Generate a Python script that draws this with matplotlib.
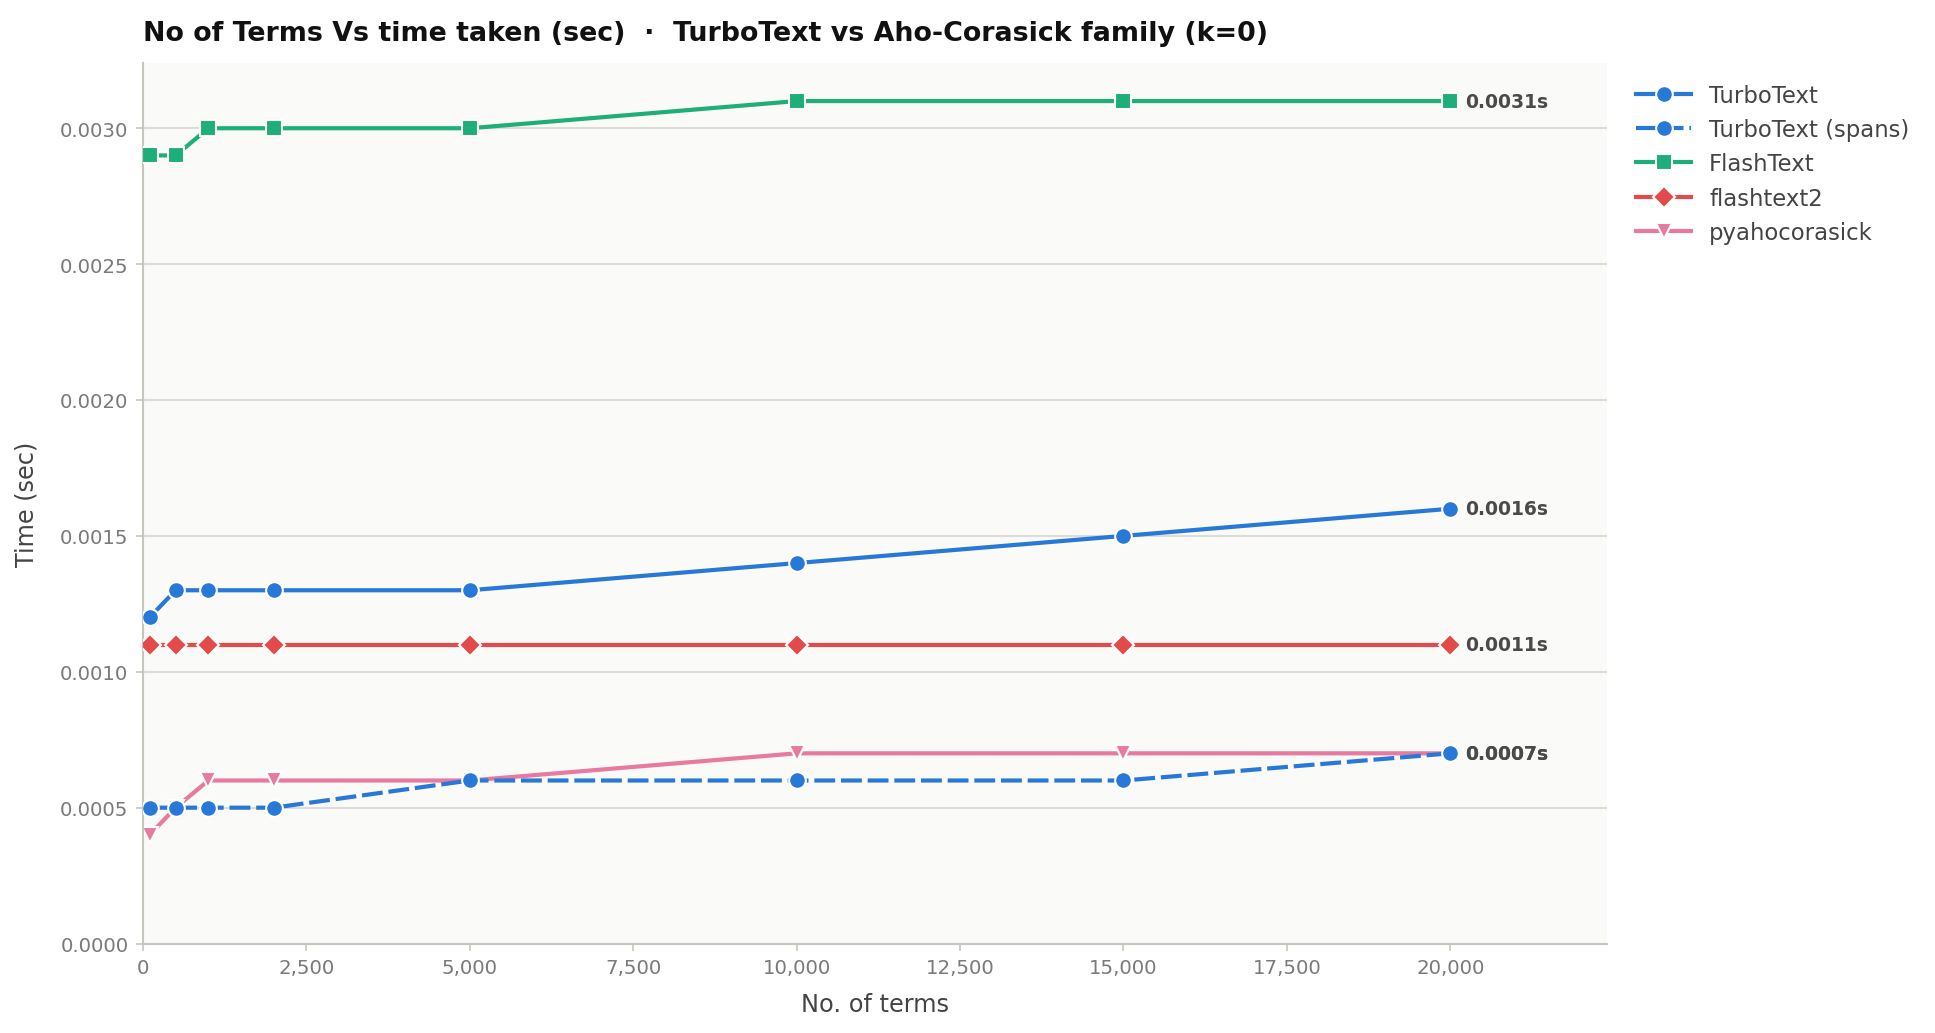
import matplotlib
matplotlib.use("Agg")
import matplotlib.pyplot as plt
from matplotlib.ticker import FuncFormatter, MultipleLocator

# benchmark results (seconds)
terms = [100, 500, 1000, 2000, 5000, 10000, 15000, 20000]
turbotext = [0.0012, 0.0013, 0.0013, 0.0013, 0.0013, 0.0014, 0.0015, 0.0016]
turbotext_spans = [0.0005, 0.0005, 0.0005, 0.0005, 0.0006, 0.0006, 0.0006, 0.0007]
flashtext = [0.0029, 0.0029, 0.0030, 0.0030, 0.0030, 0.0031, 0.0031, 0.0031]
flashtext2 = [0.0011, 0.0011, 0.0011, 0.0011, 0.0011, 0.0011, 0.0011, 0.0011]
pyahocorasick = [0.0004, 0.0005, 0.0006, 0.0006, 0.0006, 0.0007, 0.0007, 0.0007]

series = [
    ("TurboText", turbotext, "#2878d7", "o", "-", 8, 4),
    ("TurboText (spans)", turbotext_spans, "#2878d7", "o", (0, (5.0, 1.4)), 8, 4),
    ("FlashText", flashtext, "#1eaf78", "s", "-", 7.5, 3),
    ("flashtext2", flashtext2, "#e24b4a", "D", "-", 7.5, 3),
    ("pyahocorasick", pyahocorasick, "#e879a0", "v", "-", 7.5, 2),
]

fig = plt.figure(figsize=(12.9, 6.893), dpi=150)
ax = fig.add_axes([0.0739, 0.0865, 0.7567, 0.8515])
ax.set_facecolor("#fafaf8")

for name, vals, col, mk, ls, ms, z in series:
    ax.plot(terms, vals, color=col, marker=mk, linestyle=ls, lw=2.0,
            markersize=ms, markeredgecolor="white", markeredgewidth=1.0,
            label=name, zorder=z)
    ax.annotate(f"{vals[-1]:.4f}s", (terms[-1], vals[-1]), xytext=(7, 0),
                textcoords="offset points", va="center", ha="left",
                fontsize=9, fontweight="bold", color="#4a4a4a", zorder=6)

ax.set_xlim(0, 22400)
ax.set_ylim(0, 0.0032395)
ax.xaxis.set_major_locator(MultipleLocator(2500))
ax.yaxis.set_major_locator(MultipleLocator(0.0005))
ax.xaxis.set_major_formatter(FuncFormatter(lambda v, p: f"{int(v):,}"))
ax.yaxis.set_major_formatter(FuncFormatter(lambda v, p: f"{v:.4f}"))

ax.grid(axis="y", color="#dddcd6", lw=1.0)
ax.set_axisbelow(True)
for s in ["top", "right"]:
    ax.spines[s].set_visible(False)
for s in ["left", "bottom"]:
    ax.spines[s].set_color("#c6c6be")
    ax.spines[s].set_linewidth(1.0)
ax.tick_params(colors="#c6c6be", labelcolor="#7a7a7a", labelsize=9.5, length=3.5)

ax.set_xlabel("No. of terms", fontsize=11.5, color="#444444", labelpad=7)
ax.set_ylabel("Time (sec)", fontsize=11.5, color="#444444", labelpad=10)
ax.set_title("No of Terms Vs time taken (sec)  ·  TurboText vs Aho-Corasick family (k=0)",
             loc="left", fontsize=12.9, fontweight="bold", color="#111111", pad=11)

leg = ax.legend(loc="upper left", bbox_to_anchor=(1.006, 1.0), frameon=False,
                fontsize=10.9, handlelength=2.4, labelspacing=0.5)
for t in leg.get_texts():
    t.set_color("#444444")

fig.savefig("out.png", dpi=150)
